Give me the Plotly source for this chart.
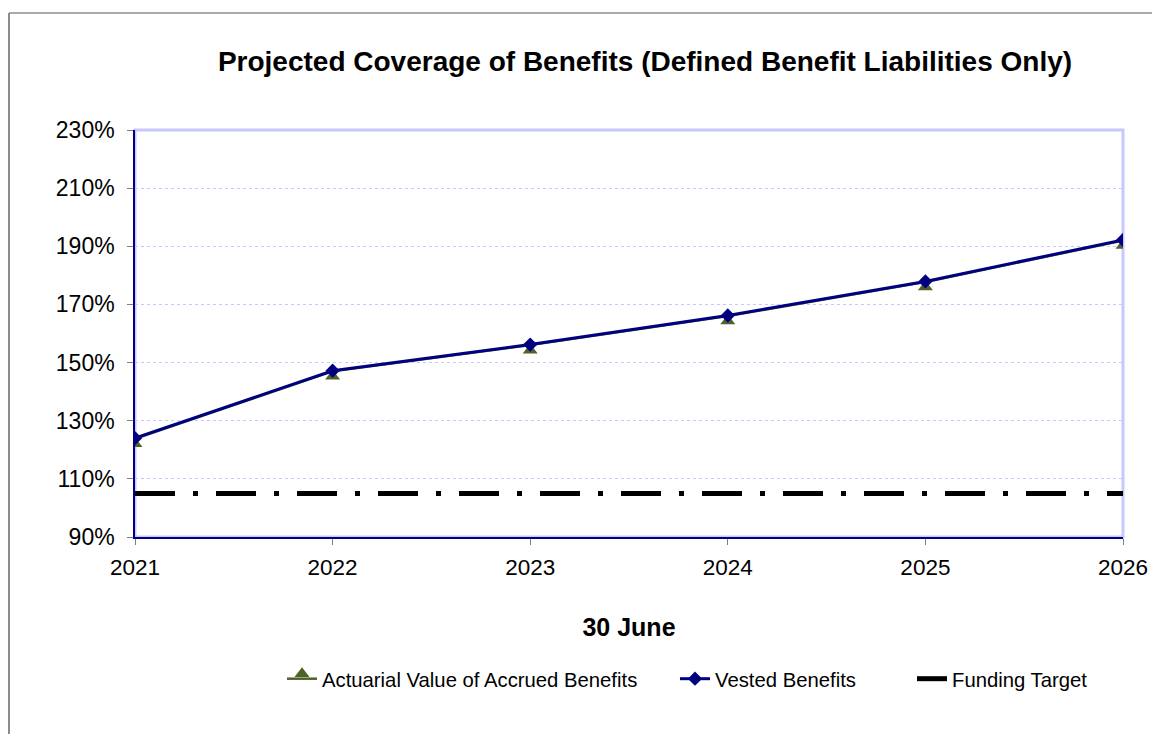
import plotly.graph_objects as go

years = [2021, 2022, 2023, 2024, 2025, 2026]
accrued = [123.8, 147.0, 156.0, 166.0, 177.7, 192.0]
vested = [124.0, 147.2, 156.2, 166.2, 177.9, 192.2]
funding_target = [105, 105, 105, 105, 105, 105]
y_ticks = [90, 110, 130, 150, 170, 190, 210, 230]
y_tick_labels = [f"{v}%" for v in y_ticks]

FONT = "Liberation Sans, Arial, sans-serif"
W, H = 1152, 734
L, R, T, B = 135, 29, 130, 197
pw, ph = W - L - R, H - T - B

fig = go.Figure()
fig.add_trace(go.Scatter(
    x=years, y=accrued, name="Actuarial Value of Accrued Benefits",
    mode="lines+markers", legend="legend",
    line=dict(color="#4F6228", width=2.5),
    marker=dict(symbol="triangle-up", size=13, color="#4F6228", standoff=5),
))
fig.add_trace(go.Scatter(
    x=years, y=vested, name="Vested Benefits",
    mode="lines+markers", legend="legend2",
    line=dict(color="#000080", width=3),
    marker=dict(symbol="diamond", size=11, color="#000080"),
))
fig.add_trace(go.Scatter(
    x=years, y=funding_target, name="Funding Target",
    mode="lines", legend="legend3",
    line=dict(color="#000000", width=5, dash="40px,18px,5px,18px"),
))

def px_x(page_x):
    return (page_x - L) / pw

def px_y(page_y):
    return (H - B - page_y) / ph

fig.update_layout(shapes=[
    dict(type="rect", xref="paper", yref="paper", x0=0, x1=1, y0=0, y1=1,
         line=dict(color="#C8C8FF", width=3), layer="below"),
    dict(type="line", xref="paper", yref="paper", x0=px_x(9), x1=px_x(9),
         y0=px_y(13), y1=px_y(760),
         line=dict(color="#8C8C8C", width=2)),
    dict(type="line", xref="paper", yref="paper", x0=px_x(9), x1=px_x(1200),
         y0=px_y(13), y1=px_y(13),
         line=dict(color="#8C8C8C", width=1.5)),
])

leg_common = dict(orientation="h", xanchor="left", yanchor="middle", y=px_y(679),
                  font=dict(size=20.3, family=FONT), bgcolor="rgba(0,0,0,0)")

fig.update_layout(
    width=W, height=H,
    margin=dict(l=L, r=R, t=T, b=B, autoexpand=False),
    paper_bgcolor="white", plot_bgcolor="white",
    font=dict(family=FONT, size=22, color="#000000"),
    title=dict(text="<b>Projected Coverage of Benefits (Defined Benefit Liabilities Only)</b>",
               x=645 / W, xanchor="center", y=1 - 61 / H, yanchor="middle",
               font=dict(size=28, family=FONT)),
    showlegend=True,
    legend=dict(x=px_x(282), **leg_common),
    legend2=dict(x=px_x(675), **leg_common),
    legend3=dict(x=px_x(912), **leg_common),
    xaxis=dict(
        automargin=False,
        range=[2021, 2026], tickmode="array", tickvals=years,
        ticktext=[str(y) for y in years],
        showgrid=False, zeroline=False,
        showline=True, linecolor="#000080", linewidth=1.5,
        ticks="outside", ticklen=6, tickcolor="#808080",
        tickfont=dict(size=22.5), ticklabelstandoff=3,
        title=dict(text="<b>30 June</b>", font=dict(size=25), standoff=40),
    ),
    yaxis=dict(
        automargin=False,
        range=[90, 230], tickmode="array", tickvals=y_ticks, ticktext=y_tick_labels,
        showgrid=True, gridcolor="#C8C8FF", griddash="dot", gridwidth=1,
        zeroline=False,
        showline=True, linecolor="#000080", linewidth=1.5,
        ticks="outside", ticklen=6, tickcolor="#808080",
        tickfont=dict(size=23), ticklabelstandoff=8,
    ),
)

fig.write_html(
    "out.html",
    config={"displayModeBar": False},
    post_script="document.body.style.margin='0';document.body.style.overflow='hidden';",
)
